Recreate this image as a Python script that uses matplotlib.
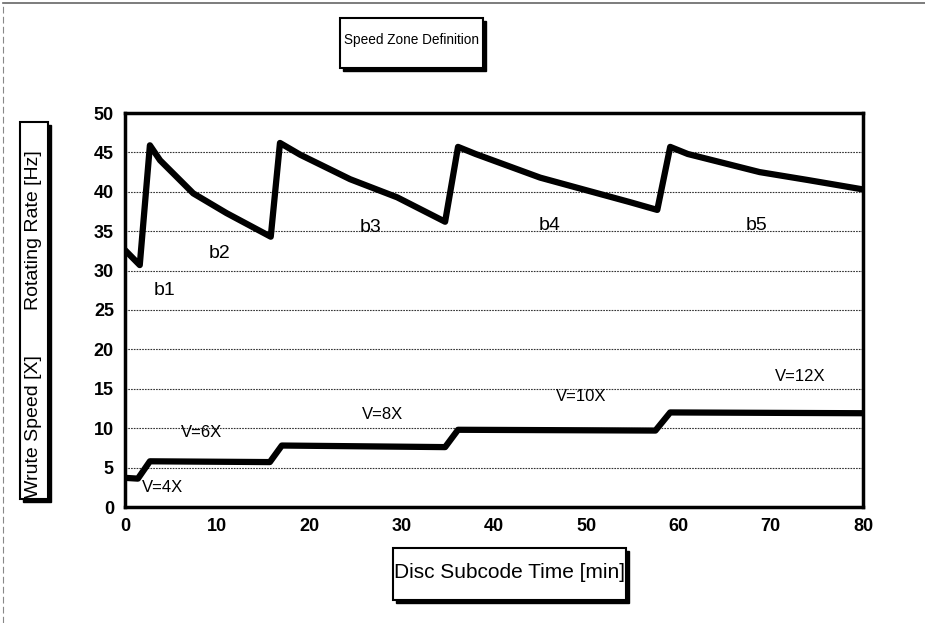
import matplotlib
matplotlib.use("Agg")
import matplotlib.pyplot as plt
from matplotlib.patches import Rectangle

plt.rcParams['font.family'] = ['Liberation Sans', 'DejaVu Sans']

# rotating rate [Hz] vs disc subcode time [min]
rate_x = [0, 1.6, 2.7, 3.8, 7.4, 11, 15.8, 16.8, 19, 24.4, 29.5, 34.7,
          36.1, 38, 45, 50, 54.7, 57.7, 59.1, 61, 68.8, 74, 80]
rate_y = [32.6, 30.7, 45.9, 44.0, 39.8, 37.3, 34.3, 46.2, 44.7, 41.6, 39.3, 36.2,
          45.7, 44.8, 41.8, 40.2, 38.7, 37.7, 45.7, 44.8, 42.5, 41.5, 40.3]

# write speed [X]
speed_x = [0, 1.4, 2.7, 15.7, 17.0, 34.7, 36.1, 57.5, 59.1, 80]
speed_y = [3.7, 3.6, 5.8, 5.7, 7.8, 7.6, 9.8, 9.7, 12.0, 11.9]

zone_labels = ['b1', 'b2', 'b3', 'b4', 'b5']
zone_x = [4.3, 10.3, 26.6, 46.0, 68.5]
zone_y = [27.5, 32.2, 35.5, 35.7, 35.7]

speed_labels = ['V=4X', 'V=6X', 'V=8X', 'V=10X', 'V=12X']
speed_lx = [4.1, 8.3, 27.9, 49.5, 73.2]
speed_ly = [2.5, 9.4, 11.7, 14.0, 16.5]

W, H = 925, 623
fig = plt.figure(figsize=(W / 100, H / 100), dpi=100)
ax = fig.add_axes([125 / W, 1 - 507 / H, (863 - 125) / W, (507 - 113) / H])

ax.plot(rate_x, rate_y, color='black', lw=4.5, solid_joinstyle='round', zorder=3)
ax.plot(speed_x, speed_y, color='black', lw=4.5, solid_joinstyle='round', zorder=3)

for t, x, y in zip(zone_labels, zone_x, zone_y):
    ax.text(x, y, t, fontsize=14, ha='center', va='center')
for t, x, y in zip(speed_labels, speed_lx, speed_ly):
    ax.text(x, y, t, fontsize=12, ha='center', va='center')

ax.set_xlim(0, 80)
ax.set_ylim(0, 50)
ax.set_xticks(range(0, 81, 10))
ax.set_yticks(range(0, 51, 5))
ax.tick_params(length=0, labelsize=13, pad=8)
for lab in ax.get_xticklabels() + ax.get_yticklabels():
    lab.set_fontweight('bold')
ax.yaxis.grid(True, color='#333333', lw=0.8, ls=(0, (1.5, 1)))
for s in ax.spines.values():
    s.set_linewidth(2.5)


def box(x0, y0, x1, y1, shadow=3):
    # rectangle in pixel coords (from top-left), with a dark drop shadow
    fig.patches.append(Rectangle(((x0 + shadow) / W, 1 - (y1 + shadow) / H),
                                 (x1 - x0) / W, (y1 - y0) / H,
                                 transform=fig.transFigure, color='black', zorder=1))
    fig.patches.append(Rectangle((x0 / W, 1 - y1 / H), (x1 - x0) / W, (y1 - y0) / H,
                                 transform=fig.transFigure, facecolor='white',
                                 edgecolor='black', lw=1.5, zorder=2))


box(340, 18, 483, 68)
fig.text(412 / W, 1 - 40 / H, 'Speed Zone Definition', fontsize=9.8, ha='center',
         va='center', zorder=5)

box(20, 122, 48, 499)
fig.text(34 / W, 1 - 427 / H, 'Wrute Speed [X]', fontsize=14, rotation=90,
         ha='center', va='center', zorder=5)
fig.text(34 / W, 1 - 230 / H, 'Rotating Rate [Hz]', fontsize=14, rotation=90,
         ha='center', va='center', zorder=5)

box(393, 548, 626, 600)
fig.text(510 / W, 1 - 573 / H, 'Disc Subcode Time [min]', fontsize=15, ha='center',
         va='center', zorder=5)

# faint outer frame of the scanned figure
fig.add_artist(plt.Line2D([3 / W, 3 / W], [0, 1 - 3 / H], color='#888888', lw=0.8,
                          ls=(0, (6, 3)), transform=fig.transFigure))
fig.add_artist(plt.Line2D([3 / W, 1], [1 - 3 / H, 1 - 3 / H], color='#666666', lw=1.2,
                          transform=fig.transFigure))

fig.savefig('out.png', dpi=100)
